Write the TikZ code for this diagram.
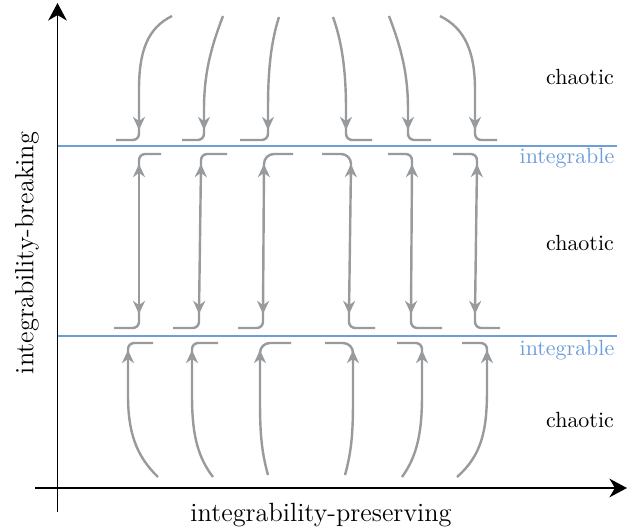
\documentclass[tikz,border=0pt]{standalone}
\usepackage{amsmath, amssymb}
\usetikzlibrary{arrows.meta}
\definecolor{flowgray}{RGB}{152, 155, 158}
\definecolor{lineblue}{RGB}{108, 158, 216}

\tikzset{
  flow/.style={flowgray, line width=1.1pt, -{Stealth[length=6pt, width=5.5pt]}},
  bothflow/.style={flow, {Stealth[length=6pt, width=5.5pt]}-{Stealth[length=6pt, width=5.5pt]}},
  hook/.style={flowgray, line width=1.1pt, rounded corners=2.8pt},
  widehook/.style={hook, rounded corners=4.5pt},
  axis/.style={black, line width=0.8pt, -{Stealth[length=8pt, width=8.5pt, inset=2.5pt]}},
  band/.style={lineblue, line width=0.8pt},
  axislabel/.style={font=\large}
}

\begin{document}
\begin{tikzpicture}[x=0.016cm, y=-0.016cm]
   \useasboundingbox (0,0) rectangle (638,531);

   % axes
   \coordinate (xstart) at (35,488);
   \coordinate (xend) at (627,488);
   \coordinate (ystart) at (57.5,512);
   \coordinate (yend) at (57.5,3);
   \draw[axis] (xstart) -- (xend);
   \draw[axis] (ystart) -- (yend);

   \node[axislabel] (xlabel) at (321,515) {integrability-preserving};
   \node[axislabel, rotate=90] (ylabel) at (27,253) {integrability-breaking};

   % integrable lines
   \coordinate (upleft) at (57.5,146);
   \coordinate (upright) at (617,146);
   \coordinate (lowleft) at (57.5,336);
   \coordinate (lowright) at (617,336);
   \draw[band] (upleft) -- (upright);
   \draw[band] (lowleft) -- (lowright);

   \node[lineblue] (int1) at (567,158) {integrable};
   \node[lineblue] (int2) at (567,350) {integrable};

   \draw
    (580,77) node(chaos1) {chaotic}
    (580,243) node(chaos2) {chaotic}
    (580,420) node(chaos3) {chaotic};

   % top: flowing down
   \draw[flow] (172,16) .. controls (148,28) and (139,50) .. (139,90) -- (139,130);
   \draw[flow] (223,16) .. controls (210,50) and (204,75) .. (204,110) -- (204,130);
   \draw[flow] (279,17) .. controls (270,45) and (268,75) .. (268,110) -- (268,130);
   \draw[flow] (333,17) .. controls (343,45) and (346,75) .. (346,110) -- (346,130);
   \draw[flow] (389,16) .. controls (402,50) and (408,75) .. (408,110) -- (408,130);
   \draw[flow] (440,16) .. controls (464,28) and (475,50) .. (475,90) -- (475,130);

   \draw[hook] (139,122) |- (116,140);
   \draw[hook] (204,122) |- (182,140);
   \draw[hook] (268,122) |- (240,140);
   \draw[hook] (346,122) |- (372,140);
   \draw[hook] (408,122) |- (431,140);
   \draw[hook] (475,122) |- (497,140);

   % middle: both ways
   \draw[bothflow] (139,164) -- (139,314);
   \draw[bothflow] (201,164) -- (199,314);
   \draw[bothflow] (264,164) -- (263,314);
   \draw[bothflow] (351,164) -- (349,314);
   \draw[bothflow] (412,164) -- (411,314);
   \draw[bothflow] (477,164) -- (475,314);

   \draw[hook] (139,172) |- (161,154);
   \draw[hook] (201,172) |- (227,154);
   \draw[widehook] (264,176) |- (293,154);
   \draw[widehook] (351,176) |- (322,154);
   \draw[hook] (412,172) |- (388,154);
   \draw[hook] (477,172) |- (453,154);

   \draw[hook] (139,306) |- (114,328);
   \draw[hook] (199,306) |- (173,328);
   \draw[hook] (263,306) |- (238,328);
   \draw[hook] (349,306) |- (375,328);
   \draw[hook] (411,306) |- (442,328);
   \draw[hook] (475,306) |- (500,328);

   % bottom: flowing up
   \draw[flow] (158,477) .. controls (135,455) and (128,430) .. (128,395) -- (128,350);
   \draw[flow] (213,477) .. controls (196,455) and (192,430) .. (192,395) -- (192,350);
   \draw[flow] (268,475) .. controls (261,450) and (260,430) .. (260,400) -- (260,350);
   \draw[flow] (345,475) .. controls (352,450) and (353,430) .. (353,400) -- (353,350);
   \draw[flow] (402,477) .. controls (418,455) and (422,430) .. (422,395) -- (422,350);
   \draw[flow] (457,477) .. controls (482,455) and (487,430) .. (487,390) -- (487,350);

   \draw[hook] (128,358) |- (153,343);
   \draw[hook] (192,358) |- (218,343);
   \draw[widehook] (260,362) |- (291,343);
   \draw[widehook] (353,362) |- (325,343);
   \draw[hook] (422,358) |- (397,343);
   \draw[hook] (487,358) |- (462,343);

\end{tikzpicture}
\end{document}
